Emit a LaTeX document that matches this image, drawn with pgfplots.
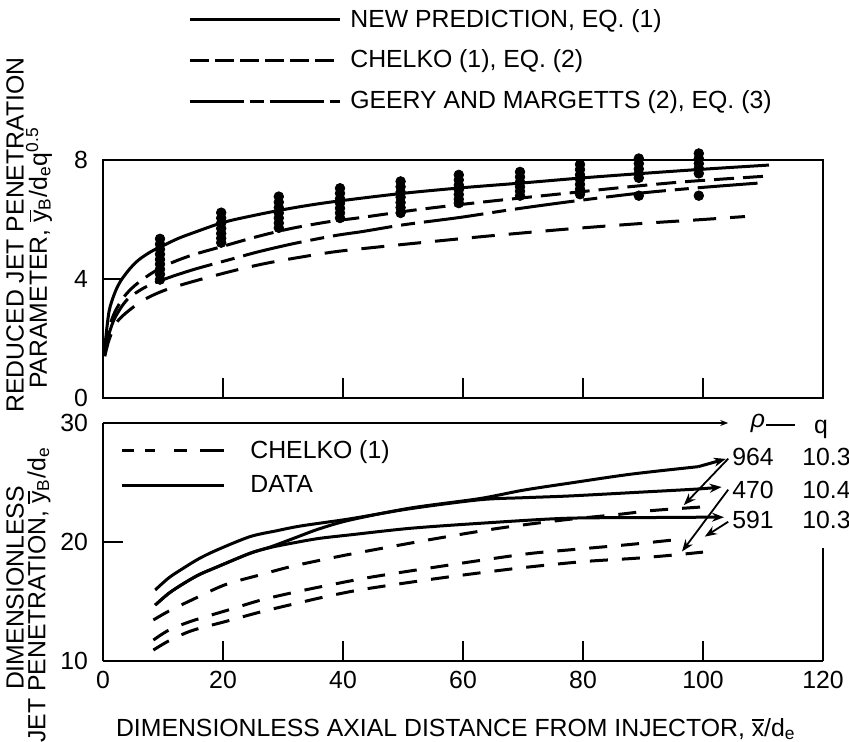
\documentclass[border=0pt]{standalone}
\usepackage{fontspec}
\setmainfont{Liberation Sans}
\usepackage{pgfplots}
\pgfplotsset{compat=1.18}
\usetikzlibrary{arrows.meta}
\newcommand{\ov}[1]{\leavevmode\vbox{\hrule height 0.07em\kern 0.1em\hbox{#1}}}
\newcommand{\fs}{\fontsize{12.4}{14}\selectfont}

\begin{document}
\begin{tikzpicture}
\path[use as bounding box] (0,0) rectangle (424.5pt,371pt);

% ---------------- top panel ----------------
\begin{axis}[
  at={(51.5pt,172pt)}, anchor=south west, scale only axis,
  width=360pt, height=119pt,
  xmin=0, xmax=120, ymin=0, ymax=8,
  xtick={20,40,60,80,100}, xticklabels={},
  ytick={0,4,8},
  tick pos=left, tick align=inside,
  major tick length=10pt,
  tick style={line width=1pt, black},
  axis line style={line width=1.3pt},
  ticklabel style={font=\fs},
  yticklabel style={xshift=-4pt},
  /pgf/number format/assume math mode=true,
  clip=false,
  legend style={draw=none, fill=none, inner sep=0pt,
    at={(0.118,1.636)}, anchor=north west,
    row sep=10pt, column sep=4.5pt, font=\fs,
    nodes={inner sep=0pt, text depth=0.15em}, cells={anchor=west}},
  legend image code/.code={\draw[#1] (0pt,0pt) -- (75pt,0pt);},
]
\addlegendimage{line width=1.5pt}
\addlegendentry{NEW PREDICTION, EQ. (1)}
\addlegendimage{line width=1.5pt, dash pattern=on 9.5pt off 3pt}
\addlegendentry{CHELKO (1), EQ. (2)}
\addlegendimage{line width=1.5pt, dash pattern=on 27pt off 3pt on 7pt off 3pt}
\addlegendentry{GEERY AND MARGETTS (2), EQ. (3)}

% new prediction
\addplot[forget plot, line width=1.5pt, smooth, tension=0.5] coordinates {
(0.3,1.7) (1,2.9) (2,3.55) (3,3.95) (4.5,4.35) (6,4.65) (8,4.92) (10,5.12)
(12.5,5.36) (15,5.55) (20,5.9) (25,6.13) (30,6.33) (35,6.5) (40,6.64) (50,6.88)
(60,7.07) (70,7.23) (80,7.4) (90,7.55) (100,7.69) (111,7.83)};
% Chelko (upper)
\addplot[forget plot, line width=1.5pt, smooth, tension=0.5, dash pattern=on 10pt off 4.5pt] coordinates {
(0.3,1.6) (1,2.35) (2,2.9) (3.5,3.4) (5.3,3.78) (8,4.18) (10.9,4.5) (14.8,4.8)
(20,5.1) (25.6,5.42) (31.4,5.7) (37.8,5.93) (42.8,6.06) (52.8,6.34) (63.9,6.6)
(76.2,6.86) (86.7,7.08) (97,7.27) (110,7.45)};
% Geery and Margetts
\addplot[forget plot, line width=1.5pt, smooth, tension=0.5, dash pattern=on 30pt off 4.5pt on 7pt off 4.5pt] coordinates {
(0.3,1.5) (1,2.15) (2,2.7) (4,3.3) (7,3.72) (10.6,4.02) (15.3,4.33) (20.9,4.64)
(26,4.92) (32,5.2) (38.7,5.46) (43.4,5.6) (50,5.82) (59.5,6.07) (68,6.33)
(77.8,6.6) (89.2,6.88) (100,7.08) (110.3,7.24)};
% Chelko (lower)
\addplot[forget plot, line width=1.5pt, smooth, tension=0.5, dash pattern=on 11.5pt off 7pt] coordinates {
(0.3,1.4) (1,1.95) (2.3,2.55) (4.5,2.97) (7,3.32) (10,3.6) (14.2,3.87) (21.2,4.25)
(27,4.52) (33.4,4.75) (39.2,4.93) (48,5.12) (56.4,5.29) (64,5.44) (72.3,5.59)
(78.7,5.7) (90,5.87) (100,6.0) (107,6.1)};
% data
\addplot[forget plot, only marks, mark=*, mark size=2.4pt, black] coordinates {
(9.5,5.35) (9.5,5.17) (9.5,5.0) (9.5,4.83) (9.5,4.66) (9.5,4.5) (9.5,4.33) (9.5,4.16) (9.5,3.98)
(19.7,6.23) (19.7,6.05) (19.7,5.88) (19.7,5.7) (19.7,5.53) (19.7,5.37) (19.7,5.22)
(29.3,6.77) (29.3,6.58) (29.3,6.4) (29.3,6.22) (29.3,6.05) (29.3,5.88) (29.3,5.72)
(39.5,7.05) (39.5,6.88) (39.5,6.7) (39.5,6.55) (39.5,6.38) (39.5,6.22) (39.5,6.05)
(49.6,7.28) (49.6,7.1) (49.6,6.92) (49.6,6.75) (49.6,6.57) (49.6,6.4) (49.6,6.22)
(59.3,7.5) (59.3,7.33) (59.3,7.16) (59.3,7.0) (59.3,6.84) (59.3,6.68) (59.3,6.55)
(69.5,7.6) (69.5,7.43) (69.5,7.26) (69.5,7.1) (69.5,6.95) (69.5,6.8)
(79.5,7.85) (79.5,7.68) (79.5,7.5) (79.5,7.35) (79.5,7.18) (79.5,7.02) (79.5,6.85)
(89.3,8.05) (89.3,7.88) (89.3,7.7) (89.3,7.55) (89.3,7.4) (89.3,6.8)
(99.3,8.22) (99.3,8.05) (99.3,7.88) (99.3,7.72) (99.3,7.55) (99.3,6.8)};
\end{axis}

% ---------------- bottom panel ----------------
\begin{axis}[
  at={(51.5pt,40.5pt)}, anchor=south west, scale only axis,
  width=360pt, height=119pt,
  xmin=0, xmax=120, ymin=10, ymax=30,
  xtick={0,20,40,60,80,100,120},
  ytick={10,20,30},
  axis x line*=bottom, axis y line*=left,
  tick align=inside,
  major tick length=10pt,
  tick style={line width=1pt, black},
  axis line style={-, line width=1.3pt},
  ticklabel style={font=\fs},
  yticklabel style={xshift=-4pt},
  xticklabel style={yshift=-1.5pt},
  /pgf/number format/assume math mode=true,
  xlabel={DIMENSIONLESS AXIAL DISTANCE FROM INJECTOR, \ov{x}/d\textsubscript{e}},
  xlabel style={font=\fs, at={(axis description cs:0.49,-0.286)}, anchor=center},
  clip=false,
  legend style={draw=none, fill=none, inner sep=0pt,
    at={(0.0236,0.930)}, anchor=north west,
    row sep=7pt, column sep=12.5pt, font=\fs,
    nodes={inner sep=0pt, text depth=0.15em}, cells={anchor=west}},
  legend image code/.code={\draw[#1] (0pt,0pt) -- (51pt,0pt);},
]
\addlegendimage{line width=1.5pt, dash pattern=on 6pt off 5.5pt on 5pt off 9.5pt on 6.5pt off 6.5pt on 12pt off 10pt}
\addlegendentry{CHELKO (1)}
\addlegendimage{line width=1.5pt}
\addlegendentry{DATA}

% data curves
\addplot[forget plot, line width=1.5pt, smooth, tension=0.5, -{Stealth[length=6pt,width=4.5pt]}] coordinates {
(8.7,15.97) (11,17.0) (13.4,17.8) (16,18.6) (19,19.33) (24.5,20.45) (29,20.95)
(33,21.35) (41.2,21.95) (51.2,22.8) (62.8,23.55) (70,23.72) (77.8,23.87)
(90,24.2) (99,24.45) (103.1,24.62)};
\addplot[forget plot, line width=1.5pt, smooth, tension=0.5] coordinates {
(8.7,14.7) (11,15.7) (13.4,16.5) (16,17.25) (19,17.9) (24.5,19.05) (28,19.6)
(32,20.35) (36,21.1) (41.2,21.85) (51.2,22.85) (62.8,23.65) (70,24.35)
(77.8,24.95) (88,25.7) (99.2,26.33)};
\addplot[forget plot, line width=1.5pt, -{Stealth[length=6pt,width=4.5pt]}] coordinates {
(99.2,26.33) (103.8,26.98)};
\addplot[forget plot, line width=1.5pt, smooth, tension=0.5, -{Stealth[length=6pt,width=4.5pt]}] coordinates {
(8.7,14.7) (11,15.7) (13.4,16.5) (16,17.25) (19,17.9) (24.5,19.05) (28,19.55)
(32,19.95) (36,20.3) (41.2,20.6) (51.2,21.15) (62.8,21.57) (77,21.99)
(90,22.05) (99,22.08) (103.5,22.08)};

% Chelko curves
\addplot[forget plot, line width=1.5pt, smooth, tension=0.5, dash pattern=on 9pt off 7pt] coordinates {
(8.4,13.45) (11,14.2) (14.8,15.13) (20.3,16.4) (25.9,17.2) (31.2,17.92) (37,18.55)
(42,19.05) (54.5,20.2) (65.9,21.15) (76.7,21.85) (85.6,22.3) (91.7,22.65) (100,22.95)};
\addplot[forget plot, line width=1.5pt, smooth, tension=0.5, dash pattern=on 9pt off 7pt] coordinates {
(8.4,11.76) (11,12.6) (14.8,13.36) (20.9,14.29) (26.4,15.13) (32.3,15.82)
(37.8,16.39) (45.3,17.1) (59.5,18.2) (70.6,19.0) (78,19.35) (88,19.8) (96.5,20.25)};
\addplot[forget plot, line width=1.5pt, smooth, tension=0.5, dash pattern=on 9pt off 7pt] coordinates {
(8.4,10.92) (11,11.7) (14.8,12.55) (20.5,13.33) (26.4,14.14) (32.3,14.85)
(37.5,15.45) (43.7,16.05) (56.2,16.97) (69.2,17.8) (80,18.35) (88.7,18.63)
(95,18.9) (100,19.15)};

% leaders from labels to Chelko curve ends
\draw[line width=0.9pt, -{Stealth[length=6pt,width=4.5pt]}] (axis cs:104.2,27.0) -- (axis cs:96.8,23.1);
\draw[line width=0.9pt, -{Stealth[length=6pt,width=4.5pt]}] (axis cs:104.2,24.4) -- (axis cs:96.5,19.2);
\draw[line width=0.9pt, -{Stealth[length=6pt,width=4.5pt]}] (axis cs:104.2,21.7) -- (axis cs:100.3,20.45);

% partial frame on top and right
\draw[line width=1.3pt, -{Stealth[length=4pt,width=3pt]}] (axis cs:0,30) -- (axis cs:104.2,30);
\draw[line width=1.3pt] (axis cs:120,10) -- (axis cs:120,19.5);
\end{axis}

% right-hand labels
\node[font=\fs, inner sep=0pt, anchor=base] at (379pt,157pt) {\textit{ρ}};
\draw[line width=0.9pt] (383pt,158.5pt) -- (397.5pt,158.5pt);
\node[font=\fs, inner sep=0pt, anchor=base] at (410.5pt,154pt) {q};
\node[font=\fs, inner sep=0pt, anchor=west] at (366pt,142.5pt) {964};
\node[font=\fs, inner sep=0pt, anchor=west] at (401pt,142.5pt) {10.3};
\node[font=\fs, inner sep=0pt, anchor=west] at (366pt,126pt) {470};
\node[font=\fs, inner sep=0pt, anchor=west] at (401pt,126pt) {10.4};
\node[font=\fs, inner sep=0pt, anchor=west] at (366pt,111pt) {591};
\node[font=\fs, inner sep=0pt, anchor=west] at (401pt,111pt) {10.3};

% y-axis labels
\node[rotate=90, font=\fs, inner sep=0pt] at (7.5pt,253.5pt) {REDUCED JET PENETRATION};
\node[rotate=90, font=\fs, inner sep=0pt] at (19.5pt,242pt) {PARAMETER, \ov{y}\textsubscript{B}/d\textsubscript{e}q\textsuperscript{0.5}};
\node[rotate=90, font=\fs, inner sep=0pt] at (7.5pt,77pt) {DIMENSIONLESS};
\node[rotate=90, font=\fs, inner sep=0pt] at (19.5pt,73.5pt) {JET PENETRATION, \ov{y}\textsubscript{B}/d\textsubscript{e}};
\end{tikzpicture}
\end{document}
